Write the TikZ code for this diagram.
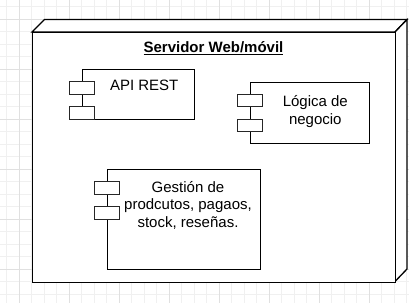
\documentclass[tikz,border=0pt]{standalone}
\usepackage{fontspec}
\setmainfont{Liberation Sans}
% underline with a heavier rule than \underline gives
\newcommand{\thickul}[1]{\vtop{\hbox{#1}\kern0.9pt\hrule height 1.1pt}}
\begin{document}
\begin{tikzpicture}[x=1pt,y=-1pt,
  gridminor/.style={draw=black!6,line width=0.8pt},
  gridmajor/.style={draw=black!12,line width=0.8pt},
  nodeface/.style={draw=black,line width=1.3pt,fill=white,line join=miter},
  compbox/.style={draw=black,line width=1.1pt,fill=white,inner sep=0pt,anchor=north west},
  portbox/.style={draw=black!85,line width=1.1pt,fill=white},
  lbl/.style={font=\fontsize{15}{17.5}\selectfont,align=center,inner sep=0pt,anchor=north}]
\useasboundingbox (0,0) rectangle (409,303);
\fill[white] (0,0) rectangle (409,303);

% background grid
\foreach \i in {0,...,32} \draw[gridminor] (6.8+12.5*\i,0) -- (6.8+12.5*\i,303);
\foreach \i in {0,...,23} \draw[gridminor] (0,6.8+12.5*\i) -- (409,6.8+12.5*\i);
\foreach \i in {0,...,7} \draw[gridmajor] (19.3+50*\i,0) -- (19.3+50*\i,303);
\foreach \i in {0,...,5} \draw[gridmajor] (0,19.3+50*\i) -- (409,19.3+50*\i);

% deployment node (3D box)
\draw[nodeface] (32,32) -- (44.5,19.5) -- (407,19.5) -- (395,32) -- cycle;
\draw[nodeface] (395,32) -- (407,19.5) -- (407,269) -- (395,281.5) -- cycle;
\node[draw=black,line width=1.3pt,fill=white,inner sep=0pt,anchor=north west,
      minimum width=363pt,minimum height=249.5pt] (server) at (32,32) {};
\node[font=\fontsize{15}{18}\selectfont\bfseries,anchor=base,inner sep=0pt] (title)
  at (213.5,52.7) {\thickul{Servidor Web/móvil}};

% component: API REST
\node[compbox,minimum width=112pt,minimum height=50pt] (api) at (82.3,69.3) {};
\draw[portbox] (69.8,81.8) rectangle (94.8,94.3);
\draw[portbox] (69.8,106.8) rectangle (94.8,119.3);
\node[lbl] (apilbl) at (144.2,78.4) {\strut API REST};

% component: business logic
\node[compbox,minimum width=119pt,minimum height=61pt] (logic) at (250,82.3) {};
\draw[portbox] (237.5,94.8) rectangle (262.5,106.6);
\draw[portbox] (237.5,119.5) rectangle (262.5,131.3);
\node[lbl] (logiclbl) at (315.3,94.2) {\strut Lógica de\\\strut negocio};

% component: management
\node[compbox,minimum width=152.7pt,minimum height=100pt] (mgmt) at (107.3,169) {};
\draw[portbox] (94.8,181.7) rectangle (119.8,194.3);
\draw[portbox] (94.8,206.7) rectangle (119.8,219.2);
\node[lbl] (mgmtlbl) at (188,179.6)
  {\strut Gestión de\\\strut prodcutos, pagaos,\\\strut stock, reseñas.};
\end{tikzpicture}
\end{document}
